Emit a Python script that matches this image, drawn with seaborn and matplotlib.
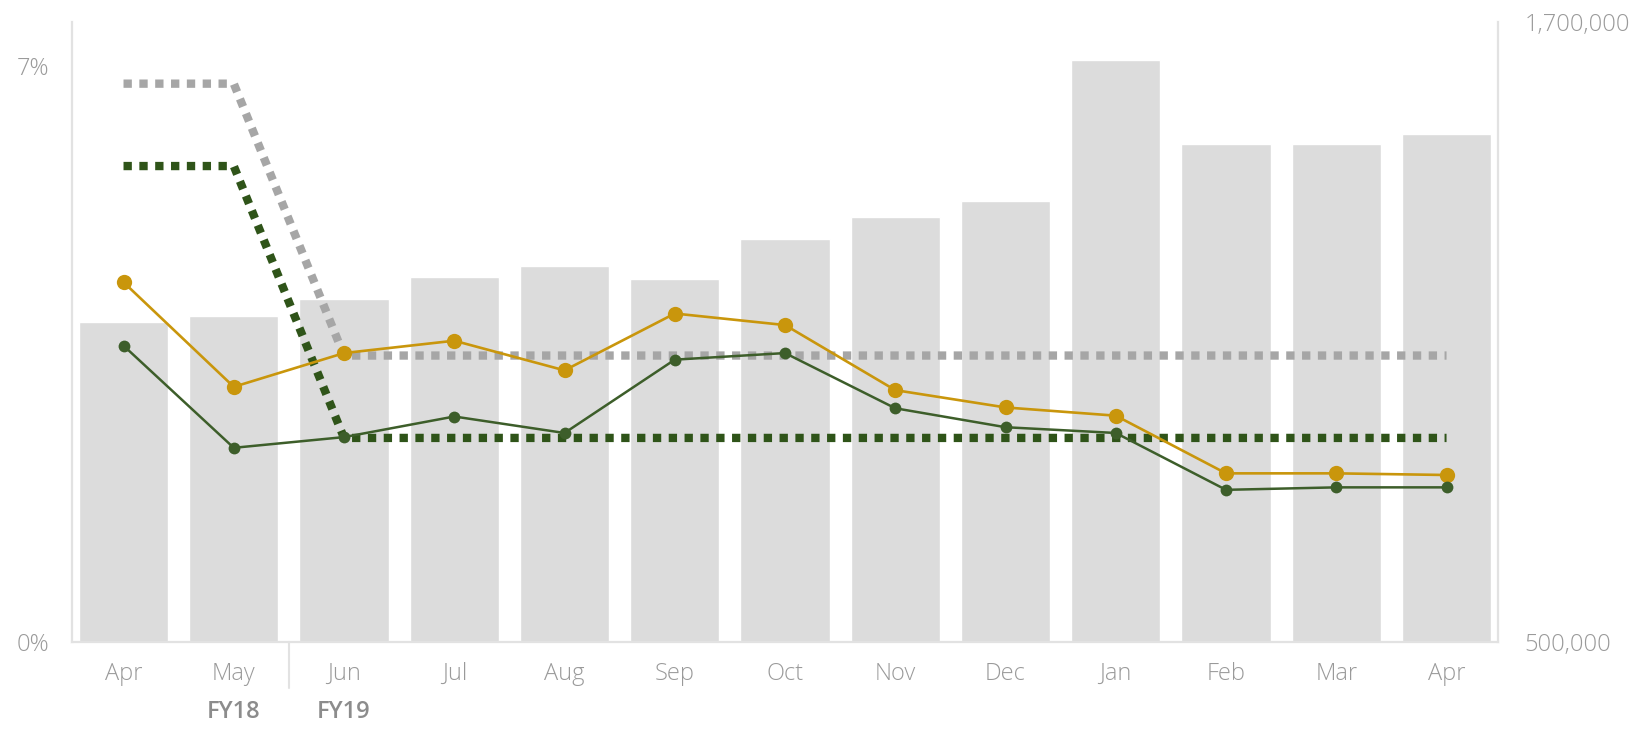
import numpy as np
import pandas as pd
import seaborn as sns
import matplotlib.pyplot as plt
import matplotlib.transforms as mtransforms

# Monthly data, Apr FY18 .. Apr FY19
months = ["Apr", "May", "Jun", "Jul", "Aug", "Sep", "Oct", "Nov", "Dec", "Jan", "Feb", "Mar", "Apr"]
volume = [1120000, 1131000, 1163000, 1206000, 1227000, 1202000, 1280000,
          1323000, 1354000, 1626000, 1464000, 1464000, 1483000]
rate_gold = [4.37, 3.10, 3.51, 3.66, 3.30, 3.99, 3.85, 3.06, 2.85, 2.75, 2.05, 2.05, 2.03]
rate_green = [3.60, 2.36, 2.49, 2.74, 2.54, 3.43, 3.51, 2.84, 2.61, 2.54, 1.85, 1.88, 1.88]
target_gray = [6.78, 6.78, 3.48, 3.48, 3.48, 3.48, 3.48, 3.48, 3.48, 3.48, 3.48, 3.48, 3.48]
target_green = [5.78, 5.78, 2.48, 2.48, 2.48, 2.48, 2.48, 2.48, 2.48, 2.48, 2.48, 2.48, 2.48]

df = pd.DataFrame({
    "idx": np.arange(len(months)),
    "volume": volume,
    "gold": rate_gold,
    "green": rate_green,
    "t_gray": target_gray,
    "t_green": target_green,
})

sns.set_style("white")
plt.rcParams["font.family"] = ["Open Sans", "DejaVu Sans"]

tick_col = "#9a9a9a"
spine_col = "#e2e2e2"
fs = 17

fig = plt.figure(figsize=(16.52, 7.29), dpi=100)
ax = fig.add_axes([0.0434, 0.119, 0.8636, 0.851])

# bars on the right-hand axis
sns.barplot(data=df, x="idx", y="volume", color="#dcdcdc", saturation=1,
            width=0.81, ax=ax)
ax2 = ax.twinx()

ax.set_ylim(500000, 1700000)
ax.yaxis.tick_right()
ax.yaxis.set_label_position("right")
ax.set_yticks([500000, 1700000])
ax.set_yticklabels(["500,000", "1,700,000"], fontweight="light")
ax.set_xlim(-0.47, 12.47)
ax.set_xticks(df["idx"])
ax.set_xticklabels(months, fontweight="light")
ax.set_xlabel("")
ax.set_ylabel("")
ax.tick_params(axis="y", length=0, pad=19, labelsize=fs, colors=tick_col)
ax.tick_params(axis="x", length=0, pad=14, labelsize=fs, colors=tick_col)

# rates on the left-hand axis
dot = (0, (1, 0.9))
sns.lineplot(data=df, x="idx", y="t_gray", color="#a6a6a6", linewidth=6,
             linestyle=dot, ax=ax2)
sns.lineplot(data=df, x="idx", y="t_green", color="#2f5419", linewidth=6,
             linestyle=dot, ax=ax2)
sns.lineplot(data=df, x="idx", y="gold", color="#c9960c", linewidth=1.9,
             marker="o", markersize=11, markeredgewidth=0, ax=ax2)
sns.lineplot(data=df, x="idx", y="green", color="#3d5e2a", linewidth=1.8,
             marker="o", markersize=8.5, markeredgewidth=0, ax=ax2)
ax2.yaxis.tick_left()
ax2.yaxis.set_label_position("left")
ax2.set_ylim(0, 7.53)
ax2.set_yticks([0, 7])
ax2.set_yticklabels(["0%", "7%"], fontweight="light")
ax2.set_xlabel("")
ax2.set_ylabel("")
ax2.tick_params(axis="y", length=0, pad=16, labelsize=fs, colors=tick_col)

for a in (ax, ax2):
    a.spines["top"].set_visible(False)
    for side in ("left", "right", "bottom"):
        a.spines[side].set_color(spine_col)
        a.spines[side].set_linewidth(1.5)

# fiscal year divider and labels
trans = mtransforms.blended_transform_factory(ax.transData, ax.transAxes)
ax.plot([1.5, 1.5], [0, -0.073], color=spine_col, linewidth=1.5,
        transform=trans, clip_on=False)
ax.text(1, -0.112, "FY18", transform=trans, ha="center", va="center",
        fontsize=fs, fontweight="semibold", color="#8c8c8c")
ax.text(2, -0.112, "FY19", transform=trans, ha="center", va="center",
        fontsize=fs, fontweight="semibold", color="#8c8c8c")

fig.savefig("out.png", dpi=100)
